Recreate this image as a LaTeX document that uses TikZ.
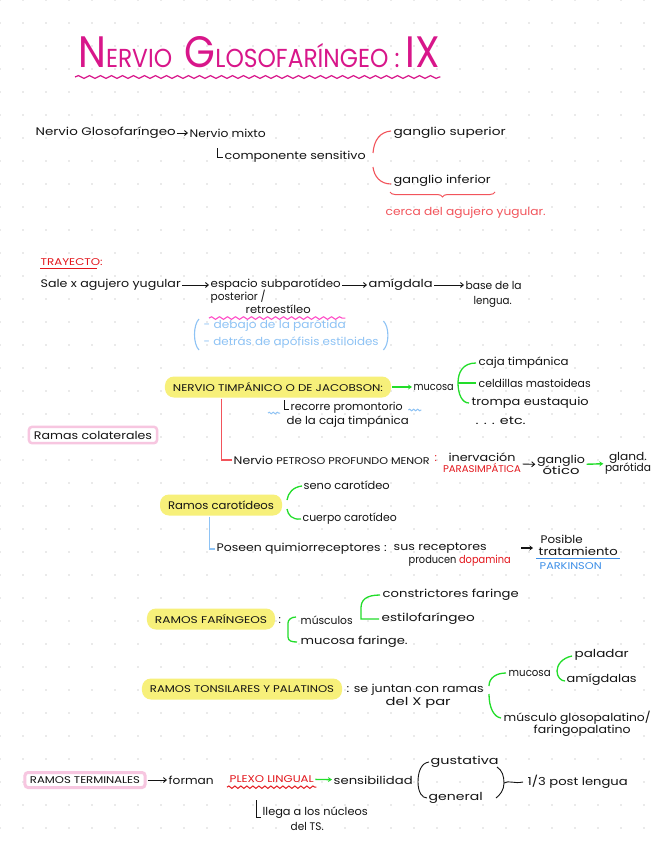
\documentclass[tikz,border=0pt]{standalone}
\usepackage{fontspec}
\setmainfont{Poppins}
\usetikzlibrary{arrows.meta,decorations.pathmorphing,decorations.pathreplacing,calc}
\definecolor{ink}{HTML}{141414}
\definecolor{titlec}{HTML}{D8168A}
\definecolor{redc}{HTML}{F2545B}
\definecolor{redd}{HTML}{E3161C}
\definecolor{greenc}{HTML}{22DD2A}
\definecolor{bluel}{HTML}{8EC3F5}
\definecolor{blued}{HTML}{3D8FE8}
\definecolor{yell}{HTML}{F7F07A}
\definecolor{pinkl}{HTML}{F7C6E0}
\definecolor{pinkw}{HTML}{FF4FC8}
\definecolor{dotc}{HTML}{D6D6D6}
\newcommand\W[2]{\resizebox{#1pt}{\height}{#2}}
\newcommand\hw{\fontsize{11}{13}\selectfont}
\newcommand\hc{\fontsize{9.8}{11}\selectfont}
\begin{document}
\begin{tikzpicture}[x=1pt,y=-1pt,
 txt/.style={inner sep=0.5pt,anchor=west,text=ink,font=\hw},
 captxt/.style={txt,font=\hc},
 hl/.style={fill=yell,rounded corners=9pt,inner xsep=8pt,inner ysep=4pt,text=ink,font=\hc,minimum height=21pt},
 pbox/.style={draw=pinkl,line width=2.5pt,rounded corners=3pt,inner xsep=5pt,inner ysep=4pt,text=ink,font=\hw},
 arr/.style={draw=ink,line width=0.9pt,-{Straight Barb[length=3pt,width=5pt]},shorten >=1pt,shorten <=1pt},
 garr/.style={draw=greenc,line width=1.4pt,-{Stealth[length=4pt,width=5pt]},shorten >=1pt,shorten <=1pt},
 gline/.style={draw=greenc,line width=1.3pt},
 iline/.style={draw=ink,line width=0.9pt}]
\useasboundingbox (0,0) rectangle (656,848);
\fill[white] (0,0) rectangle (656,848);
\foreach \i in {0,...,28} \foreach \j in {0,...,36} \fill[dotc] (\i*23,\j*23) circle (0.9);

% title
\node[anchor=base west,text=titlec,inner sep=0pt] (title) at (78,68) {\W{362}{\fontsize{44}{44}\selectfont N\fontsize{26}{26}\selectfont ERVIO\ \ \fontsize{44}{44}\selectfont G\fontsize{26}{26}\selectfont LOSOFARÍNGEO\ :\ \fontsize{44}{44}\selectfont IX}};
\draw[titlec,line width=1.2pt,decorate,decoration={snake,amplitude=1.4pt,segment length=11pt}] ($(title.base west)+(-3,9)$) -- ($(title.base east)+(0,9)$);

% block 1
\node[txt] (ng) at (35,133) {\W{140}{Nervio Glosofaríngeo}};
\node[txt] (nm) at (189,133) {\W{76}{Nervio mixto}};
\node[txt] (cs) at (224,157) {\W{141}{componente sensitivo}};
\node[txt] (gs) at (393,133) {\W{112}{ganglio superior}};
\node[txt] (gi) at (393,181) {\W{97}{ganglio inferior}};
\node[txt,text=redc] (cy) at (385,213) {\W{160}{cerca del agujero yugular.}};
\draw[arr] (ng) -- (nm);
\draw[iline] ($(cs.west)+(-7,-9)$) |- ($(cs.west)+(-1,0)$);
\draw[redc,line width=1.1pt] ($(gs.west)+(-2,-2)$) .. controls (380,132) and (374,140) .. (373,153);
\draw[redc,line width=1.1pt] (373,167) .. controls (374,176) and (380,184) .. ($(gi.west)+(-2,3)$);
\draw[redc,line width=1pt,decorate,decoration={brace,mirror,amplitude=5pt}] (390,192) -- (495,192);

% trayecto
\node[captxt,text=redd] (tr) at (40,262) {\W{62}{TRAYECTO:}};
\node[txt] (sa) at (40,285) {\W{140}{Sale x agujero yugular}};
\node[txt] (es) at (210,285) {\W{130}{espacio subparotídeo}};
\node[txt] (am) at (368,285) {\W{64}{amígdala}};
\node[txt] (bl) at (465,285) {\W{56}{base de la}};
\node[txt] (lg) at (473,302) {\W{38}{lengua.}};
\node[txt] (po) at (210,297) {\W{55}{posterior /}};
\node[txt] (rt2) at (245,309) {\W{65}{retroestíleo}};
\node[txt,text=bluel] (d1) at (203,326) {\W{142}{- debajo de la parótida}};
\node[txt,text=bluel] (d2) at (203,343) {\W{175}{- detrás de apófisis estiloides}};
\draw[redd,line width=1pt] ($(tr.south west)+(0,2)$) -- ($(tr.south east)+(-6,2)$);
\draw[arr] (sa) -- (es);
\draw[arr] (es) -- (am);
\draw[arr] (am) -- (bl);
\draw[pinkw,line width=1.1pt,decorate,decoration={snake,amplitude=1.3pt,segment length=8pt}] ($(rt2.south west)+(-36,4)$) -- ($(rt2.south east)+(34,4)$);
\draw[bluel,line width=1.1pt] ($(d1.west)+(-4,-7)$) .. controls +(-6,6) and +(-6,-6) .. ($(d2.west)+(-4,7)$);
\draw[bluel,line width=1.1pt] ($(d2.east)+(4,-22)$) .. controls +(6,6) and +(6,-6) .. ($(d2.east)+(4,7)$);

% Jacobson
\node[hl] (jc) at (278,387) {\W{210}{NERVIO TIMPÁNICO O DE JACOBSON:}};
\node[txt] (mu) at (413,387) {\W{40}{mucosa}};
\node[txt] (ct) at (478,363) {\W{90}{caja timpánica}};
\node[txt] (cm) at (478,383) {\W{112}{celdillas mastoideas}};
\node[txt] (te) at (471,403) {\W{117}{trompa eustaquio}};
\node[txt] (et) at (475,421) {\W{50}{. . . etc.}};
\node[txt] (rp1) at (290,408) {\W{112}{recorre promontorio}};
\node[txt] (rp2) at (286,422) {\W{122}{de la caja timpánica}};
\coordinate (gm) at (458,383);
\draw[garr] (jc) -- (mu);
\draw[gline] ($(ct.west)+(-2,0)$) .. controls (463,363) and (458,372) .. (gm) .. controls (458,394) and (462,403) .. ($(te.west)+(-2,0)$);
\draw[gline] (gm) -- ($(cm.west)+(-2,0)$);
\draw[iline] ($(rp1.west)+(-6,-8)$) |- ($(rp1.west)+(-1,1)$);
\draw[bluel,line width=1pt,decorate,decoration={snake,amplitude=0.8pt,segment length=4pt}] ($(rp1.west)+(-22,5)$) -- ($(rp1.west)+(-10,5)$);
\draw[bluel,line width=1pt,decorate,decoration={snake,amplitude=0.8pt,segment length=4pt}] ($(rp1.east)+(5,2)$) -- ($(rp1.east)+(18,2)$);

% ramas colaterales
\node[pbox] (rc) at (93,435) {\W{118}{Ramas colaterales}};

% petroso
\node[txt] (pp) at (233,460) {\W{196}{Nervio {\hc PETROSO PROFUNDO MENOR}}};
\node[txt,text=redd] (pc) at (434,459) {:};
\node[txt,align=center,anchor=center] (ip) at (482,463) {\W{67}{inervación}\\[-2pt]{\hc\color{redd}\W{78}{PARASIMPÁTICA}}};
\node[txt,align=center,anchor=center] (go) at (561,465) {\W{48}{ganglio}\\[-2pt]\W{37}{ótico}};
\node[txt,align=center,anchor=center] (gp) at (628,463) {\W{38}{gland.}\\[-2pt]\W{46}{parótida}};
\draw[redc,line width=1.1pt] ($(jc.south west)+(57,1)$) |- ($(pp.west)+(-1,0)$);
\draw[arr] (ip) -- (go);
\draw[garr] (go) -- (gp);

% carotideos
\node[hl,font=\hw] (rca) at (221,505) {\W{106}{Ramos carotídeos}};
\node[txt] (sc) at (303,485) {\W{86}{seno carotídeo}};
\node[txt] (cc) at (302,519) {\W{94}{cuerpo carotídeo}};
\node[txt] (pq) at (216,549) {\W{170}{Poseen quimiorreceptores :}};
\node[txt] (sr) at (393,548) {\W{93}{sus receptores}};
\node[txt] (pr) at (408,561) {\W{102}{producen {\color{redd}dopamina}}};
\node[txt] (ps1) at (540,539) {\W{42}{Posible}};
\node[txt] (ps2) at (538,551) {\W{79}{tratamiento}};
\node[captxt,text=blued] (ps3) at (539,566) {\W{62}{PARKINSON}};
\draw[gline] ($(sc.west)+(-1,1)$) .. controls (293,487) and (288,493) .. (287,500);
\draw[gline] (287,509) .. controls (288,515) and (292,520) .. ($(cc.west)+(-1,0)$);
\draw[bluel,line width=1.1pt] ($(rca.south west)+(50,1)$) |- ($(pq.west)+(-1,0)$);
\draw[blued,line width=1.1pt] ($(ps2.south west)+(-2,3)$) -- ($(ps2.south east)+(2,3)$);
\draw[ink,line width=1.2pt,-{Stealth[length=3.5pt,width=5pt]},shorten <=34pt,shorten >=5pt] (sr.east) -- (sr.east -| ps2.west);

% faringeos
\node[hl] (rf) at (211,619) {\W{112}{RAMOS FARÍNGEOS}};
\node[txt] (rfc) at (278,621) {:};
\node[txt] (mc) at (300,620) {\W{52}{músculos}};
\node[txt] (mf) at (300,642) {\W{107}{mucosa faringe.}};
\node[txt] (cf) at (382,595) {\W{136}{constrictores faringe}};
\node[txt] (ef) at (381,619) {\W{93}{estilofaríngeo}};
\draw[gline] ($(mc.west)+(-4,-3)$) .. controls +(-5,0) and +(0,-3) .. (288,623) -- (288,637) .. controls +(0,4) and +(-5,0) .. ($(mf.west)+(-3,0)$);
\draw[gline] ($(ef.west)+(-2,0)$) -- (361,619) -- (361,608) .. controls (361,600) and (366,595) .. ($(cf.west)+(-2,0)$);

% tonsilares
\node[hl] (rt) at (242,689) {\W{184}{RAMOS TONSILARES Y PALATINOS}};
\node[txt] (sj1) at (346,690) {\W{137}{: se juntan con ramas}};
\node[txt] (sj2) at (385,703) {\W{65}{del X par}};
\node[txt] (ms) at (508,673) {\W{42}{mucosa}};
\node[txt] (pal) at (574,655) {\W{54}{paladar}};
\node[txt] (ami) at (566,680) {\W{70}{amígdalas}};
\node[txt] (mg) at (503,718) {\W{147}{músculo glosopalatino/}};
\node[txt] (fp) at (533,731) {\W{97}{faringopalatino}};
\draw[gline] ($(ms.west)+(-2,0)$) .. controls (496,673) and (489,678) .. (489,686);
\draw[gline] (489,694) .. controls (489,708) and (494,717) .. ($(mg.west)+(-2,0)$);
\draw[gline] ($(pal.west)+(-2,1)$) .. controls (562,658) and (557,665) .. (557,671) .. controls (557,677) and (561,681) .. ($(ami.west)+(-1,1)$);

% terminales
\node[pbox,font=\hc,line width=3pt] (rte) at (85,780) {\W{110}{RAMOS TERMINALES}};
\node[txt] (fo) at (168,780) {\W{45}{forman}};
\node[captxt,text=redd] (pl) at (229,779) {\W{84}{PLEXO LINGUAL}};
\node[txt] (se) at (333,780) {\W{79}{sensibilidad}};
\node[txt] (gu) at (430,762) {\W{68}{gustativa}};
\node[txt] (ge) at (428,798) {\W{54}{general}};
\node[txt] (lp) at (527,782) {\W{100}{1/3 post lengua}};
\node[txt] (ll1) at (262,813) {\W{105}{llega a los núcleos}};
\node[txt] (ll2) at (290,826) {\W{33}{del TS.}};
\coordinate (rpx) at (504,783);
\draw[arr] (rte) -- (fo);
\draw[garr] (pl) -- (se);
\draw[redd,line width=1pt,decorate,decoration={snake,amplitude=1.2pt,segment length=6pt}] ($(pl.south west)+(-2,4)$) -- ($(pl.south east)+(2,4)$);
\draw[iline] ($(gu.west)+(-1,0)$) .. controls (421,763) and (418,772) .. (418,782) .. controls (418,792) and (422,798) .. ($(ge.west)+(-1,0)$);
\draw[iline] (497,767) .. controls (502,770) and (504,776) .. (rpx) .. controls (504,790) and (500,795) .. (496,798);
\draw[iline] (rpx) .. controls (509,780) and (514,784) .. ($(lp.west)+(-4,0)$);
\draw[iline] ($(ll1.west)+(-6,-13)$) |- ($(ll1.west)+(-1,4)$);
\end{tikzpicture}
\end{document}
